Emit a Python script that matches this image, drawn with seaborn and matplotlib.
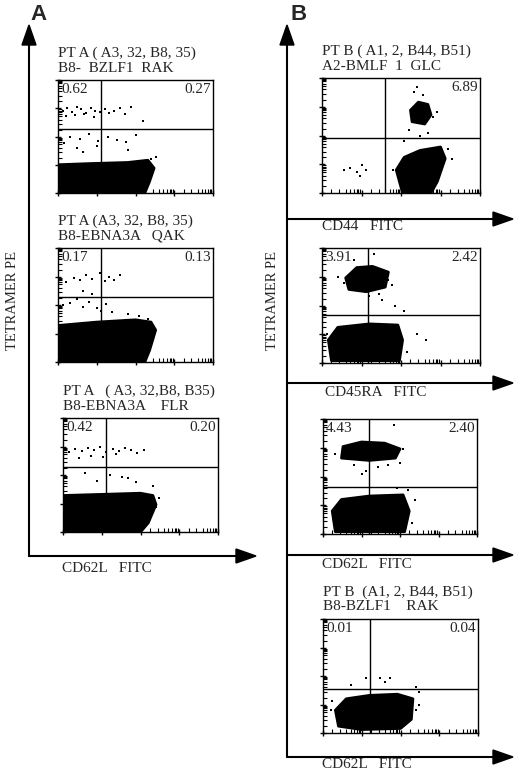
import matplotlib
matplotlib.use("Agg")
import matplotlib.pyplot as plt
import seaborn as sns
import pandas as pd

sns.set_theme(style="white")
plt.rcParams['font.family'] = ['Liberation Serif', 'DejaVu Serif']

W, H = 520, 773
FS = 11
# panel boxes in pixels: left, right, top, bottom
boxes = {
    "A1": (58, 213, 80, 193), "A2": (58, 213, 248, 362), "A3": (63, 218, 418, 532),
    "B1": (322, 480, 78, 193), "B2": (322, 480, 248, 363), "B3": (323, 477, 419, 534),
    "B4": (323, 478, 619, 733),
}
titles = {
    "A1": ["PT A ( A3, 32, B8, 35)", "B8-  BZLF1  RAK"],
    "A2": ["PT A (A3, 32, B8, 35)", "B8-EBNA3A   QAK"],
    "A3": ["PT A   ( A3, 32,B8, B35)", "B8-EBNA3A    FLR"],
    "B1": ["PT B ( A1, 2, B44, B51)", "A2-BMLF  1  GLC"],
    "B4": ["PT B  (A1, 2, B44, B51)", "B8-BZLF1    RAK"],
}
quad_x = {"A1": 28, "A2": 28, "A3": 28, "B1": 40, "B2": 29, "B3": 30, "B4": 30}
quad_y = {"A1": 57, "A2": 57, "A3": 57, "B1": 48, "B2": 42, "B3": 41, "B4": 39}
ul_pct = {"A1": "0.62", "A2": "0.17", "A3": "0.42", "B1": "", "B2": "3.91", "B3": "4.43", "B4": "0.01"}
ur_pct = {"A1": "0.27", "A2": "0.13", "A3": "0.20", "B1": "6.89", "B2": "2.42", "B3": "2.40", "B4": "0.04"}

# dense populations as outlines (x %, y %)
blobs = {
    "A1": [[(0, 0), (0, 25), (20, 26), (45, 27), (58, 29), (62, 22), (59, 10), (56, 0)]],
    "A2": [[(0, 0), (0, 32), (25, 35), (50, 37), (60, 35), (63, 28), (59, 10), (56, 0)]],
    "A3": [[(0, 0), (0, 32), (25, 33), (50, 34), (58, 32), (60, 24), (55, 8), (50, 0)]],
    "B1": [[(57, 62), (56, 72), (61, 79), (67, 77), (69, 68), (65, 60)],
           [(51, 0), (47, 20), (52, 31), (62, 37), (75, 40), (78, 30), (73, 10), (69, 0)]],
    "B2": [[(17, 64), (15, 74), (22, 83), (32, 84), (42, 79), (40, 66), (28, 62)],
           [(6, 2), (4, 20), (10, 31), (30, 34), (48, 33), (51, 20), (49, 2)]],
    "B3": [[(12, 66), (13, 76), (25, 80), (40, 79), (50, 74), (47, 66), (30, 64)],
           [(8, 2), (6, 20), (12, 30), (30, 33), (52, 34), (56, 20), (53, 2)]],
    "B4": [[(10, 6), (8, 20), (15, 30), (30, 33), (48, 34), (58, 30), (57, 12), (50, 4), (25, 3)]],
}
# sparse events (x %, y %)
dots_x = {
    "A1": [3, 6, 9, 12, 15, 18, 21, 24, 27, 5, 11, 17, 23, 30, 33, 36, 40, 43, 47, 55, 8, 14, 20, 26, 32, 38, 44, 50, 12, 25, 45, 4, 16, 60, 63, 52],
    "A2": [5, 10, 14, 18, 22, 27, 30, 33, 36, 40, 3, 8, 12, 16, 20, 25, 28, 31, 35, 22, 16, 45, 52, 62, 58],
    "A3": [4, 8, 12, 16, 20, 24, 28, 32, 36, 40, 44, 48, 52, 10, 18, 26, 34, 38, 14, 22, 30, 42, 47, 58, 62, 60],
    "B1": [14, 18, 22, 25, 28, 24, 58, 60, 64, 70, 73, 55, 62, 67, 52, 80, 45, 82],
    "B2": [10, 14, 36, 42, 44, 20, 30, 38, 60, 66, 5, 46, 52, 33, 54, 3],
    "B3": [8, 15, 44, 50, 52, 20, 28, 36, 42, 48, 55, 46, 53, 25, 58, 60],
    "B4": [18, 28, 37, 40, 43, 60, 62, 5, 6, 60, 62],
}
dots_y = {
    "A1": [73, 75, 72, 76, 74, 71, 75, 73, 72, 68, 69, 70, 67, 74, 71, 73, 75, 70, 76, 64, 50, 48, 52, 46, 50, 47, 45, 51, 40, 42, 38, 44, 36, 30, 32, 20],
    "A2": [70, 74, 72, 76, 73, 78, 71, 75, 72, 76, 50, 52, 55, 48, 53, 47, 45, 51, 44, 60, 62, 42, 40, 30, 38],
    "A3": [70, 73, 71, 74, 72, 75, 70, 73, 71, 74, 72, 69, 72, 65, 67, 66, 68, 48, 52, 45, 50, 47, 44, 40, 30, 22],
    "B1": [20, 22, 18, 24, 20, 15, 88, 92, 85, 66, 70, 55, 50, 52, 45, 38, 20, 30],
    "B2": [75, 70, 60, 72, 68, 90, 58, 55, 25, 20, 15, 50, 45, 95, 10, 25],
    "B3": [70, 76, 70, 62, 74, 60, 55, 58, 60, 40, 38, 95, 30, 52, 10, 30],
    "B4": [42, 48, 48, 45, 48, 40, 36, 20, 28, 20, 25],
}

fig = plt.figure(figsize=(W / 100, H / 100), dpi=100)

def frac(l, r, t, b):
    return [l / W, 1 - b / H, (r - l) / W, (b - t) / H]

for key, (l, r, t, b) in boxes.items():
    ax = fig.add_axes(frac(l, r, t, b))
    for poly in blobs[key]:
        xs, ys = zip(*poly)
        ax.fill(xs, ys, color="black", lw=2, ec="black", joinstyle="round")
    df = pd.DataFrame({"x": dots_x[key], "y": dots_y[key]})
    sns.scatterplot(data=df, x="x", y="y", ax=ax, s=3, color="black", linewidth=0, marker="s")
    ax.axvline(quad_x[key], color="black", lw=1)
    ax.axhline(quad_y[key], color="black", lw=1)
    ax.set_xlim(0, 100)
    ax.set_ylim(0, 100)
    ax.set_xlabel("")
    ax.set_ylabel("")
    maj = [0, 25, 50, 75, 100]
    mnr = [m + d for m in maj[:-1] for d in (6, 11, 15, 18, 20, 22, 23, 24)]
    ax.set_xticks(maj)
    ax.set_yticks(maj)
    ax.set_xticks(mnr, minor=True)
    ax.set_yticks(mnr, minor=True)
    ax.set_xticklabels([])
    ax.set_yticklabels([])
    ax.tick_params(which="major", direction="inout", length=5, width=1, left=True, bottom=True, color="black")
    ax.tick_params(which="minor", direction="in", length=3, width=0.8, left=True, bottom=True, color="black")
    for s in ax.spines.values():
        s.set_color("black")
        s.set_linewidth(1)
    ax.text(2, 97, ul_pct[key], ha="left", va="top", fontsize=FS)
    ax.text(99, 97, ur_pct[key], ha="right", va="top", fontsize=FS)
    if key in titles:
        fig.text(l / W, 1 - (t - 27) / H, titles[key][0], ha="left", va="center", fontsize=FS)
        fig.text(l / W, 1 - (t - 12) / H, titles[key][1], ha="left", va="center", fontsize=FS)

ov = fig.add_axes([0, 0, 1, 1])
ov.set_xlim(0, W)
ov.set_ylim(H, 0)
ov.axis("off")
ov.patch.set_alpha(0)

def harrow(x0, x1, y):
    ov.plot([x0, x1 - 18], [y, y], color="black", lw=1.5)
    ov.fill([x1 - 20, x1, x1 - 20], [y - 7, y, y + 7], color="black")

def varrow(x, y0, y1):
    ov.plot([x, x], [y0 + 18, y1], color="black", lw=1.5)
    ov.fill([x - 7, x, x + 7], [y0 + 20, y0, y0 + 20], color="black")

varrow(29, 25, 556)
harrow(29, 256, 556)
varrow(287, 25, 757)
harrow(287, 513, 219)
harrow(287, 513, 383)
harrow(287, 513, 555)
harrow(287, 513, 757)

ov.text(30, 15, "A", fontsize=16, fontweight="bold", family=["Liberation Sans"], va="center", ha="left")
ov.text(290, 15, "B", fontsize=16, fontweight="bold", family=["Liberation Sans"], va="center", ha="left")
ov.text(13, 300, "TETRAMER PE", rotation=90, fontsize=10.5, va="center", ha="center")
ov.text(272, 300, "TETRAMER PE", rotation=90, fontsize=10.5, va="center", ha="center")
for (x, y, s) in [(62, 568, "CD62L   FITC"), (322, 226, "CD44   FITC"), (325, 393, "CD45RA   FITC"),
                  (322, 565, "CD62L   FITC"), (322, 765, "CD62L   FITC")]:
    ov.text(x, y, s, fontsize=FS, va="center", ha="left")

fig.savefig("out.png", dpi=100, facecolor="white")
